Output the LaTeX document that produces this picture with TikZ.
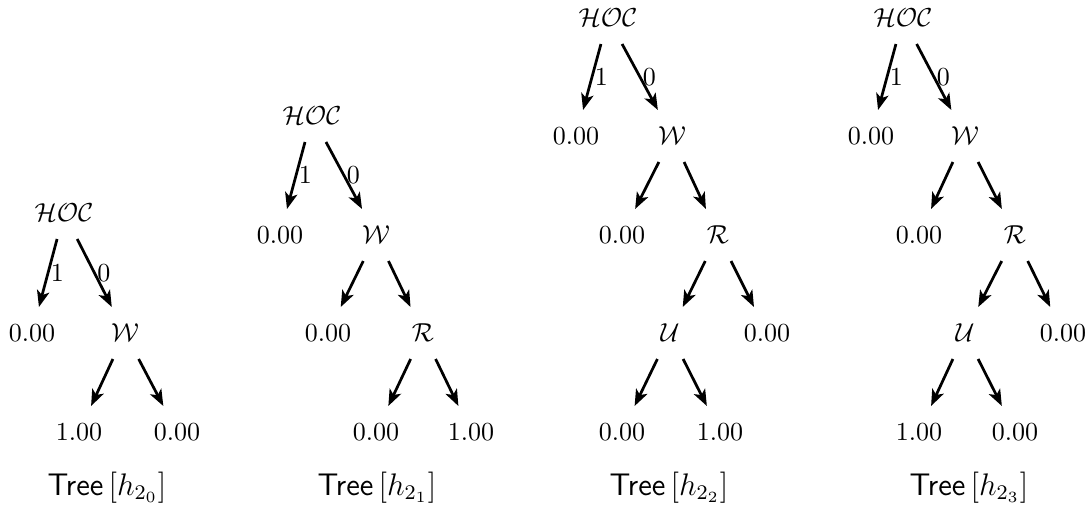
\documentclass[tikz,border=0pt]{standalone}
\usetikzlibrary{arrows.meta}
\begin{document}
\begin{tikzpicture}[x=0.3846pt,y=-0.3846pt,
  tn/.style={inner sep=0pt,text height=6.5pt,text depth=0pt,minimum height=19.6pt,minimum width=20pt},
  arr/.style={-{Stealth[length=6.3pt,width=4.8pt,inset=1.6pt]},line width=1.05pt},
  el/.style={right,inner sep=0.6pt,pos=0.5},
  caplabel/.style={inner sep=0pt,anchor=base,font=\fontsize{12}{14}\selectfont}]
\useasboundingbox (0,0) rectangle (1090,508);
% Tree 1
\node[tn] (h1) at (64,213) {$\mathcal{HOC}$};
\node[tn] (a1) at (32,333) {$0.00$};
\node[tn] (w1) at (125,333) {$\mathcal{W}$};
\node[tn] (b1) at (79,432) {$1.00$};
\node[tn] (c1) at (177,432) {$0.00$};
\node[caplabel] (l1) at (107,495) {\textsf{Tree}$\,[h_{2_0}]$};
\draw[arr] (h1) -- node[el] {$1$} (a1);
\draw[arr] (h1) -- node[el] {$0$} (w1);
\draw[arr] (w1) -- (b1);
\draw[arr] (w1) -- (c1);
% Tree 2
\node[tn] (h2) at (312,116) {$\mathcal{HOC}$};
\node[tn] (a2) at (280,235) {$0.00$};
\node[tn] (w2) at (376,235) {$\mathcal{W}$};
\node[tn] (b2) at (328,333) {$0.00$};
\node[tn] (r2) at (423,333) {$\mathcal{R}$};
\node[tn] (c2) at (376,432) {$0.00$};
\node[tn] (d2) at (471,432) {$1.00$};
\node[caplabel] (l2) at (377,495) {\textsf{Tree}$\,[h_{2_1}]$};
\draw[arr] (h2) -- node[el] {$1$} (a2);
\draw[arr] (h2) -- node[el] {$0$} (w2);
\draw[arr] (w2) -- (b2);
\draw[arr] (w2) -- (r2);
\draw[arr] (r2) -- (c2);
\draw[arr] (r2) -- (d2);
% Tree 3
\node[tn] (h3) at (608,18) {$\mathcal{HOC}$};
\node[tn] (a3) at (576,136) {$0.00$};
\node[tn] (w3) at (672,136) {$\mathcal{W}$};
\node[tn] (b3) at (622,235) {$0.00$};
\node[tn] (r3) at (718,235) {$\mathcal{R}$};
\node[tn] (u3) at (670,333) {$\mathcal{U}$};
\node[tn] (c3) at (767,333) {$0.00$};
\node[tn] (d3) at (622,432) {$0.00$};
\node[tn] (e3) at (720,432) {$1.00$};
\node[caplabel] (l3) at (669,495) {\textsf{Tree}$\,[h_{2_2}]$};
\draw[arr] (h3) -- node[el] {$1$} (a3);
\draw[arr] (h3) -- node[el] {$0$} (w3);
\draw[arr] (w3) -- (b3);
\draw[arr] (w3) -- (r3);
\draw[arr] (r3) -- (u3);
\draw[arr] (r3) -- (c3);
\draw[arr] (u3) -- (d3);
\draw[arr] (u3) -- (e3);
% Tree 4
\node[tn] (h4) at (903,18) {$\mathcal{HOC}$};
\node[tn] (a4) at (871,136) {$0.00$};
\node[tn] (w4) at (965,136) {$\mathcal{W}$};
\node[tn] (b4) at (919,235) {$0.00$};
\node[tn] (r4) at (1015,235) {$\mathcal{R}$};
\node[tn] (u4) at (965,333) {$\mathcal{U}$};
\node[tn] (c4) at (1063,333) {$0.00$};
\node[tn] (d4) at (919,432) {$1.00$};
\node[tn] (e4) at (1015,432) {$0.00$};
\node[caplabel] (l4) at (969,495) {\textsf{Tree}$\,[h_{2_3}]$};
\draw[arr] (h4) -- node[el] {$1$} (a4);
\draw[arr] (h4) -- node[el] {$0$} (w4);
\draw[arr] (w4) -- (b4);
\draw[arr] (w4) -- (r4);
\draw[arr] (r4) -- (u4);
\draw[arr] (r4) -- (c4);
\draw[arr] (u4) -- (d4);
\draw[arr] (u4) -- (e4);
\end{tikzpicture}
\end{document}
